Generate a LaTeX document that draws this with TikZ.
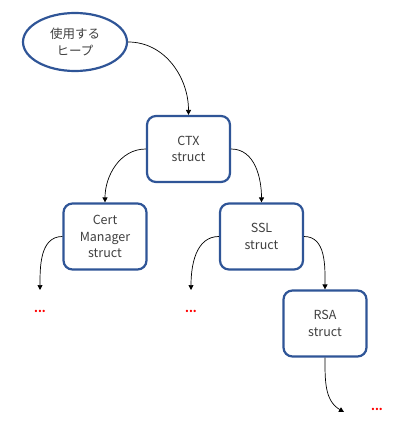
\documentclass[tikz,border=0pt]{standalone}
\usepackage{fontspec}
\setmainfont{Noto Sans CJK JP}
\usetikzlibrary{arrows.meta,shapes.geometric}
\definecolor{boxblue}{HTML}{2F5597}
\definecolor{txt}{HTML}{404040}
\begin{document}
\begin{tikzpicture}[x=1pt,y=-1pt,
  font=\fontsize{12.5}{16.5}\selectfont,
  box/.style={draw=boxblue,line width=2.2pt,rounded corners=9pt,minimum width=83pt,minimum height=66pt,align=center,text=txt,fill=white,inner sep=1pt},
  heap/.style={draw=boxblue,line width=2.2pt,ellipse,minimum width=104pt,minimum height=58pt,align=center,text=txt,inner sep=0pt},
  conn/.style={-{Triangle[length=5pt,width=5pt]},line width=0.7pt},
  more/.style={text=red,font=\fontsize{11}{11}\selectfont\bfseries,inner sep=0pt}]
\useasboundingbox (0,0) rectangle (405,423);
\node[heap] (heap) at (75,42) {使用する\\ヒープ};
\node[box] (ctx) at (188.5,149) {CTX\\struct};
\node[box] (cert) at (105,236.5) {Cert\\Manager\\struct};
\node[box] (ssl) at (261.5,236.5) {SSL\\struct};
\node[box] (rsa) at (325,323.5) {RSA\\struct};
\coordinate (certend) at (40,290);
\coordinate (sslend) at (191,290);
\coordinate (rsaend) at (344,412);
\node[more] (d1) at (40,311) {...};
\node[more] (d2) at (191,311) {...};
\node[more] (d3) at (377,409) {...};
\draw[conn] (heap.east) to[out=0,in=90] (ctx.north);
\draw[conn] (ctx.west) to[out=180,in=90] (cert.north);
\draw[conn] (ctx.east) to[out=0,in=90] (ssl.north);
\draw[conn] (cert.west) to[out=180,in=90] (certend);
\draw[conn] (ssl.west) to[out=180,in=90] (sslend);
\draw[conn] (ssl.east) to[out=0,in=90] (rsa.north);
\draw[conn] (rsa.south) to[out=-90,in=150] (rsaend);
\end{tikzpicture}
\end{document}
